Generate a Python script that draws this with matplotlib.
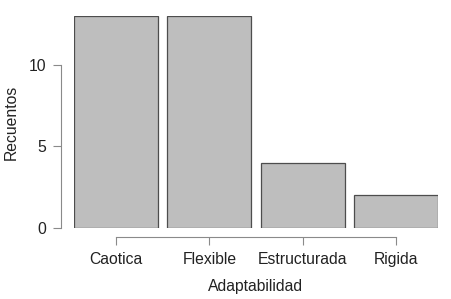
import matplotlib
matplotlib.use('Agg')
import matplotlib.pyplot as plt

categorias = ['Caotica', 'Flexible', 'Estructurada', 'Rigida']
recuentos = [13, 13, 4, 2]
yticks = [0, 5, 10]

plt.rcParams['font.family'] = ['Liberation Sans', 'DejaVu Sans']

fig = plt.figure(figsize=(4.51, 2.99), dpi=100)
# axes placed in pixels: x 74..438, y 228 (0) .. 15.9 (13)
ax = fig.add_axes([74 / 451, (299 - 228) / 299, 364 / 451, 212.1 / 299])

pos = list(range(len(categorias)))
ax.bar(pos, recuentos, width=0.9, color='#bebebe', edgecolor='#4d4d4d', linewidth=0.9)
ax.set_xlim(-0.45, 3.45)
ax.set_ylim(0, 13)

for s in ['top', 'right']:
    ax.spines[s].set_visible(False)
ax.spines['left'].set_position(('outward', 9.4))
ax.spines['bottom'].set_position(('outward', 6.5))
ax.spines['left'].set_bounds(0, 10)
ax.spines['bottom'].set_bounds(0, 3)
for s in ['left', 'bottom']:
    ax.spines[s].set_color('#8a8a8a')
    ax.spines[s].set_linewidth(0.8)

ax.set_xticks(pos)
ax.set_xticklabels(categorias)
ax.set_yticks(yticks)
ax.tick_params(axis='both', colors='#8a8a8a', length=5.5, width=0.8, labelsize=11.3, labelcolor='#222222')
ax.tick_params(axis='x', pad=5)
ax.tick_params(axis='y', pad=5)

ax.set_xlabel('Adaptabilidad', fontsize=11.3, color='#222222', labelpad=9)
ax.set_ylabel('Recuentos', fontsize=11.3, color='#222222', labelpad=7)

fig.savefig('out.png', dpi=100, facecolor='white')
